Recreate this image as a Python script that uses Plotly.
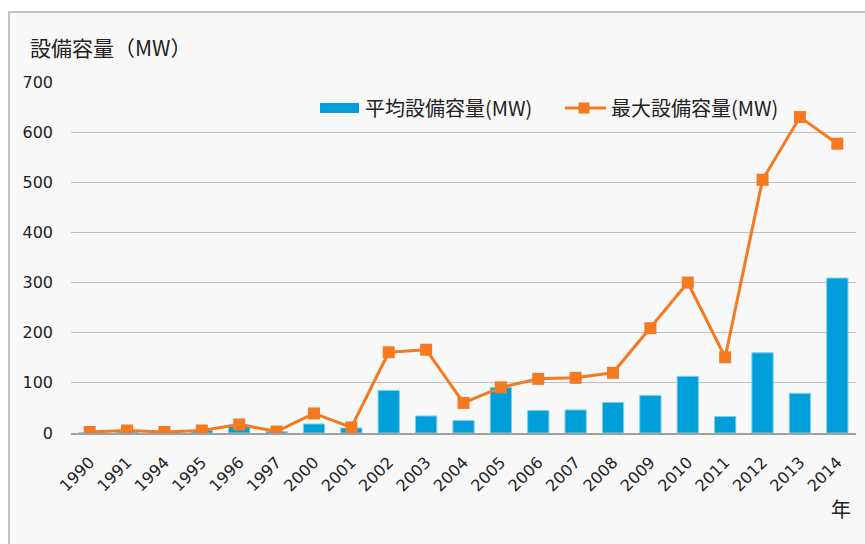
import plotly.graph_objects as go

years = ["1990", "1991", "1994", "1995", "1996", "1997", "2000", "2001", "2002", "2003",
         "2004", "2005", "2006", "2007", "2008", "2009", "2010", "2011", "2012", "2013", "2014"]
avg_capacity = [1, 2, 1, 5, 16, 3, 18, 10, 85, 34, 25, 91, 45, 46, 61, 75, 113, 33, 160, 79, 309]
max_capacity = [2, 5, 2, 5, 17, 3, 39, 11, 161, 166, 60, 91, 108, 110, 120, 209, 300, 151, 505, 630, 577]
y_ticks = [0, 100, 200, 300, 400, 500, 600, 700]
avg_name = "平均設備容量(MW)"
max_name = "最大設備容量(MW)"

FONT = "Noto Sans CJK JP, Noto Sans, sans-serif"
NUMFONT = "DejaVu Sans, sans-serif"
BLUE = "#009fda"
ORANGE = "#f47920"
TXT = "#222222"

fig = go.Figure()
fig.add_trace(go.Bar(
    x=years, y=avg_capacity, name=avg_name,
    marker=dict(color=BLUE, line=dict(color="#7fd0ee", width=1)),
))
fig.add_trace(go.Scatter(
    x=years, y=max_capacity, name=max_name, mode="lines+markers",
    line=dict(color=ORANGE, width=3),
    marker=dict(symbol="square", size=12, color=ORANGE),
))

# custom legend (paper coordinates)
ly = 0.926
shapes = [
    dict(type="rect", xref="paper", yref="paper", layer="below",
         x0=-0.079, x1=1.2, y0=-0.5, y1=1.1994,
         fillcolor="#f8f8f8", line=dict(color="#b0b0b0", width=1.5)),
    dict(type="rect", xref="paper", yref="paper",
         x0=0.3172, x1=0.3669, y0=ly - 0.0143, y1=ly + 0.0143,
         fillcolor=BLUE, line=dict(width=0)),
    dict(type="line", xref="paper", yref="paper",
         x0=0.6293, x1=0.6815, y0=ly, y1=ly,
         line=dict(color=ORANGE, width=3)),
    dict(type="rect", xref="paper", yref="paper",
         x0=0.6465, x1=0.6605, y0=ly - 0.0157, y1=ly + 0.0157,
         fillcolor=ORANGE, line=dict(width=0)),
]

fig.update_layout(
    width=865, height=544,
    margin=dict(l=71, r=9, t=82, b=111, autoexpand=False),
    paper_bgcolor="white",
    plot_bgcolor="#f8f8f8",
    font=dict(family=FONT, size=16, color=TXT),
    bargap=0.43,
    showlegend=False,
    shapes=shapes,
    annotations=[
        dict(text="設備容量（MW）", xref="paper", yref="paper", x=-0.0548, y=1.0997,
             xanchor="left", yanchor="middle", showarrow=False,
             font=dict(size=21, color=TXT)),
        dict(text="年", xref="paper", yref="paper", x=0.981, y=-0.2137,
             xanchor="center", yanchor="middle", showarrow=False,
             font=dict(size=20, color=TXT)),
        dict(text=avg_name, xref="paper", yref="paper", x=0.372, y=ly,
             xanchor="left", yanchor="middle", showarrow=False,
             font=dict(size=20, color=TXT)),
        dict(text=max_name, xref="paper", yref="paper", x=0.6854, y=ly,
             xanchor="left", yanchor="middle", showarrow=False,
             font=dict(size=20, color=TXT)),
    ],
)
fig.update_xaxes(type="category", tickangle=-45, showgrid=False, automargin=False,
                 range=[-0.5, len(years) - 0.5],
                 showline=True, linecolor="#a0a0a0", linewidth=1.5,
                 tickfont=dict(family=NUMFONT, size=16, color=TXT), ticks="",
                 ticklabelstandoff=12)
fig.update_yaxes(range=[0, 700], tickvals=y_ticks, showgrid=True, gridcolor="#c0c0c0",
                 gridwidth=1, zeroline=False, showline=False, ticks="", automargin=False,
                 tickfont=dict(family=NUMFONT, size=16, color=TXT), ticklabelstandoff=17)

fig.write_html("out.html", config={"displayModeBar": False},
               post_script="document.body.style.margin='0';")
